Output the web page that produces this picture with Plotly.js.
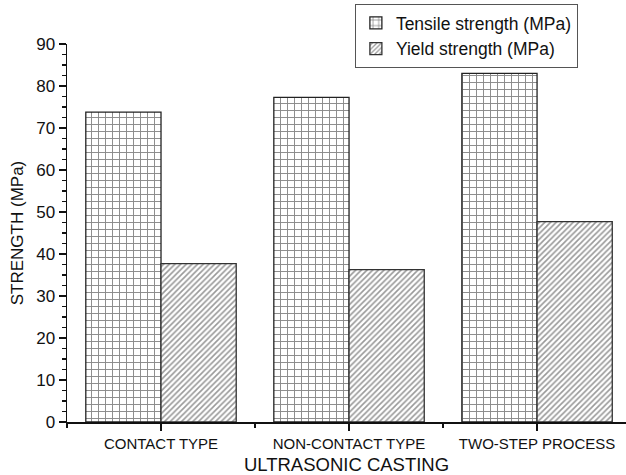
<!DOCTYPE html>
<html>
<head>
<meta charset="utf-8">
<script src="https://cdn.plot.ly/plotly-3.0.1.min.js"></script>
<style>html,body{margin:0;padding:0;background:#fff;}#chart{width:626px;height:475px;}</style>
</head>
<body>
<div id="chart"></div>
<script>
const categories = ["CONTACT TYPE", "NON-CONTACT TYPE", "TWO-STEP PROCESS"];
const tensile = [73.8, 77.3, 83.0];
const yieldStrength = [37.7, 36.3, 47.7];
const seriesNames = ["Tensile strength (MPa)", "Yield strength (MPa)"];
const yTicks = [0, 10, 20, 30, 40, 50, 60, 70, 80, 90];

const xIdx = categories.map((c, i) => i);
const font = "'Liberation Sans', Arial, sans-serif";

const traces = [
  {
    type: "bar", name: seriesNames[0], x: xIdx, y: tensile,
    marker: {
      color: "#ffffff",
      line: {color: "#222", width: 1.3},
      pattern: {shape: "+", size: 7, solidity: 0.25, fgcolor: "#111", bgcolor: "#ffffff", fillmode: "overlay"}
    }
  },
  {
    type: "bar", name: seriesNames[1], x: xIdx, y: yieldStrength,
    marker: {
      color: "#ffffff",
      line: {color: "#333", width: 1.3},
      pattern: {shape: "/", size: 4, solidity: 0.4, fgcolor: "#333", bgcolor: "#ffffff", fillmode: "overlay"}
    }
  }
];

const layout = {
  width: 626, height: 475,
  margin: {l: 67, r: 0, t: 44, b: 53},
  paper_bgcolor: "#fff", plot_bgcolor: "#fff",
  font: {family: font, color: "#111"},
  barmode: "group", bargap: 0.2, bargroupgap: 0,
  showlegend: true,
  legend: {
    x: 0.515, y: 1.106, xanchor: "left", yanchor: "top",
    bgcolor: "#fff", bordercolor: "#555", borderwidth: 1,
    font: {size: 17.5, family: font, color: "#111"},
    tracegroupgap: 0
  },
  xaxis: {
    range: [-0.5, 2.473],
    tickvals: xIdx, ticktext: categories,
    tickfont: {size: 15, family: font},
    ticks: "outside", ticklen: 7, tickwidth: 1.3, tickcolor: "#111",
    minor: {dtick: 0.5, tick0: 0.5, ticks: "outside", ticklen: 4, tickwidth: 1.3, tickcolor: "#111"},
    showline: true, linecolor: "#111", linewidth: 1.5,
    showgrid: false, zeroline: false,
    title: {text: "ULTRASONIC CASTING", font: {size: 18.5, family: font}, standoff: 8}
  },
  yaxis: {
    range: [0, 90],
    tickvals: yTicks,
    tickfont: {size: 17, family: font},
    ticks: "outside", ticklen: 7, tickwidth: 1.3, tickcolor: "#111",
    minor: {dtick: 2.5, ticks: "outside", ticklen: 4, tickwidth: 1.3, tickcolor: "#111"},
    showline: true, linecolor: "#111", linewidth: 1.5,
    showgrid: false, zeroline: false,
    title: {text: "STRENGTH (MPa)", font: {size: 17, family: font}, standoff: 8}
  }
};

Plotly.newPlot("chart", traces, layout, {displayModeBar: false, staticPlot: true});
</script>
</body>
</html>
